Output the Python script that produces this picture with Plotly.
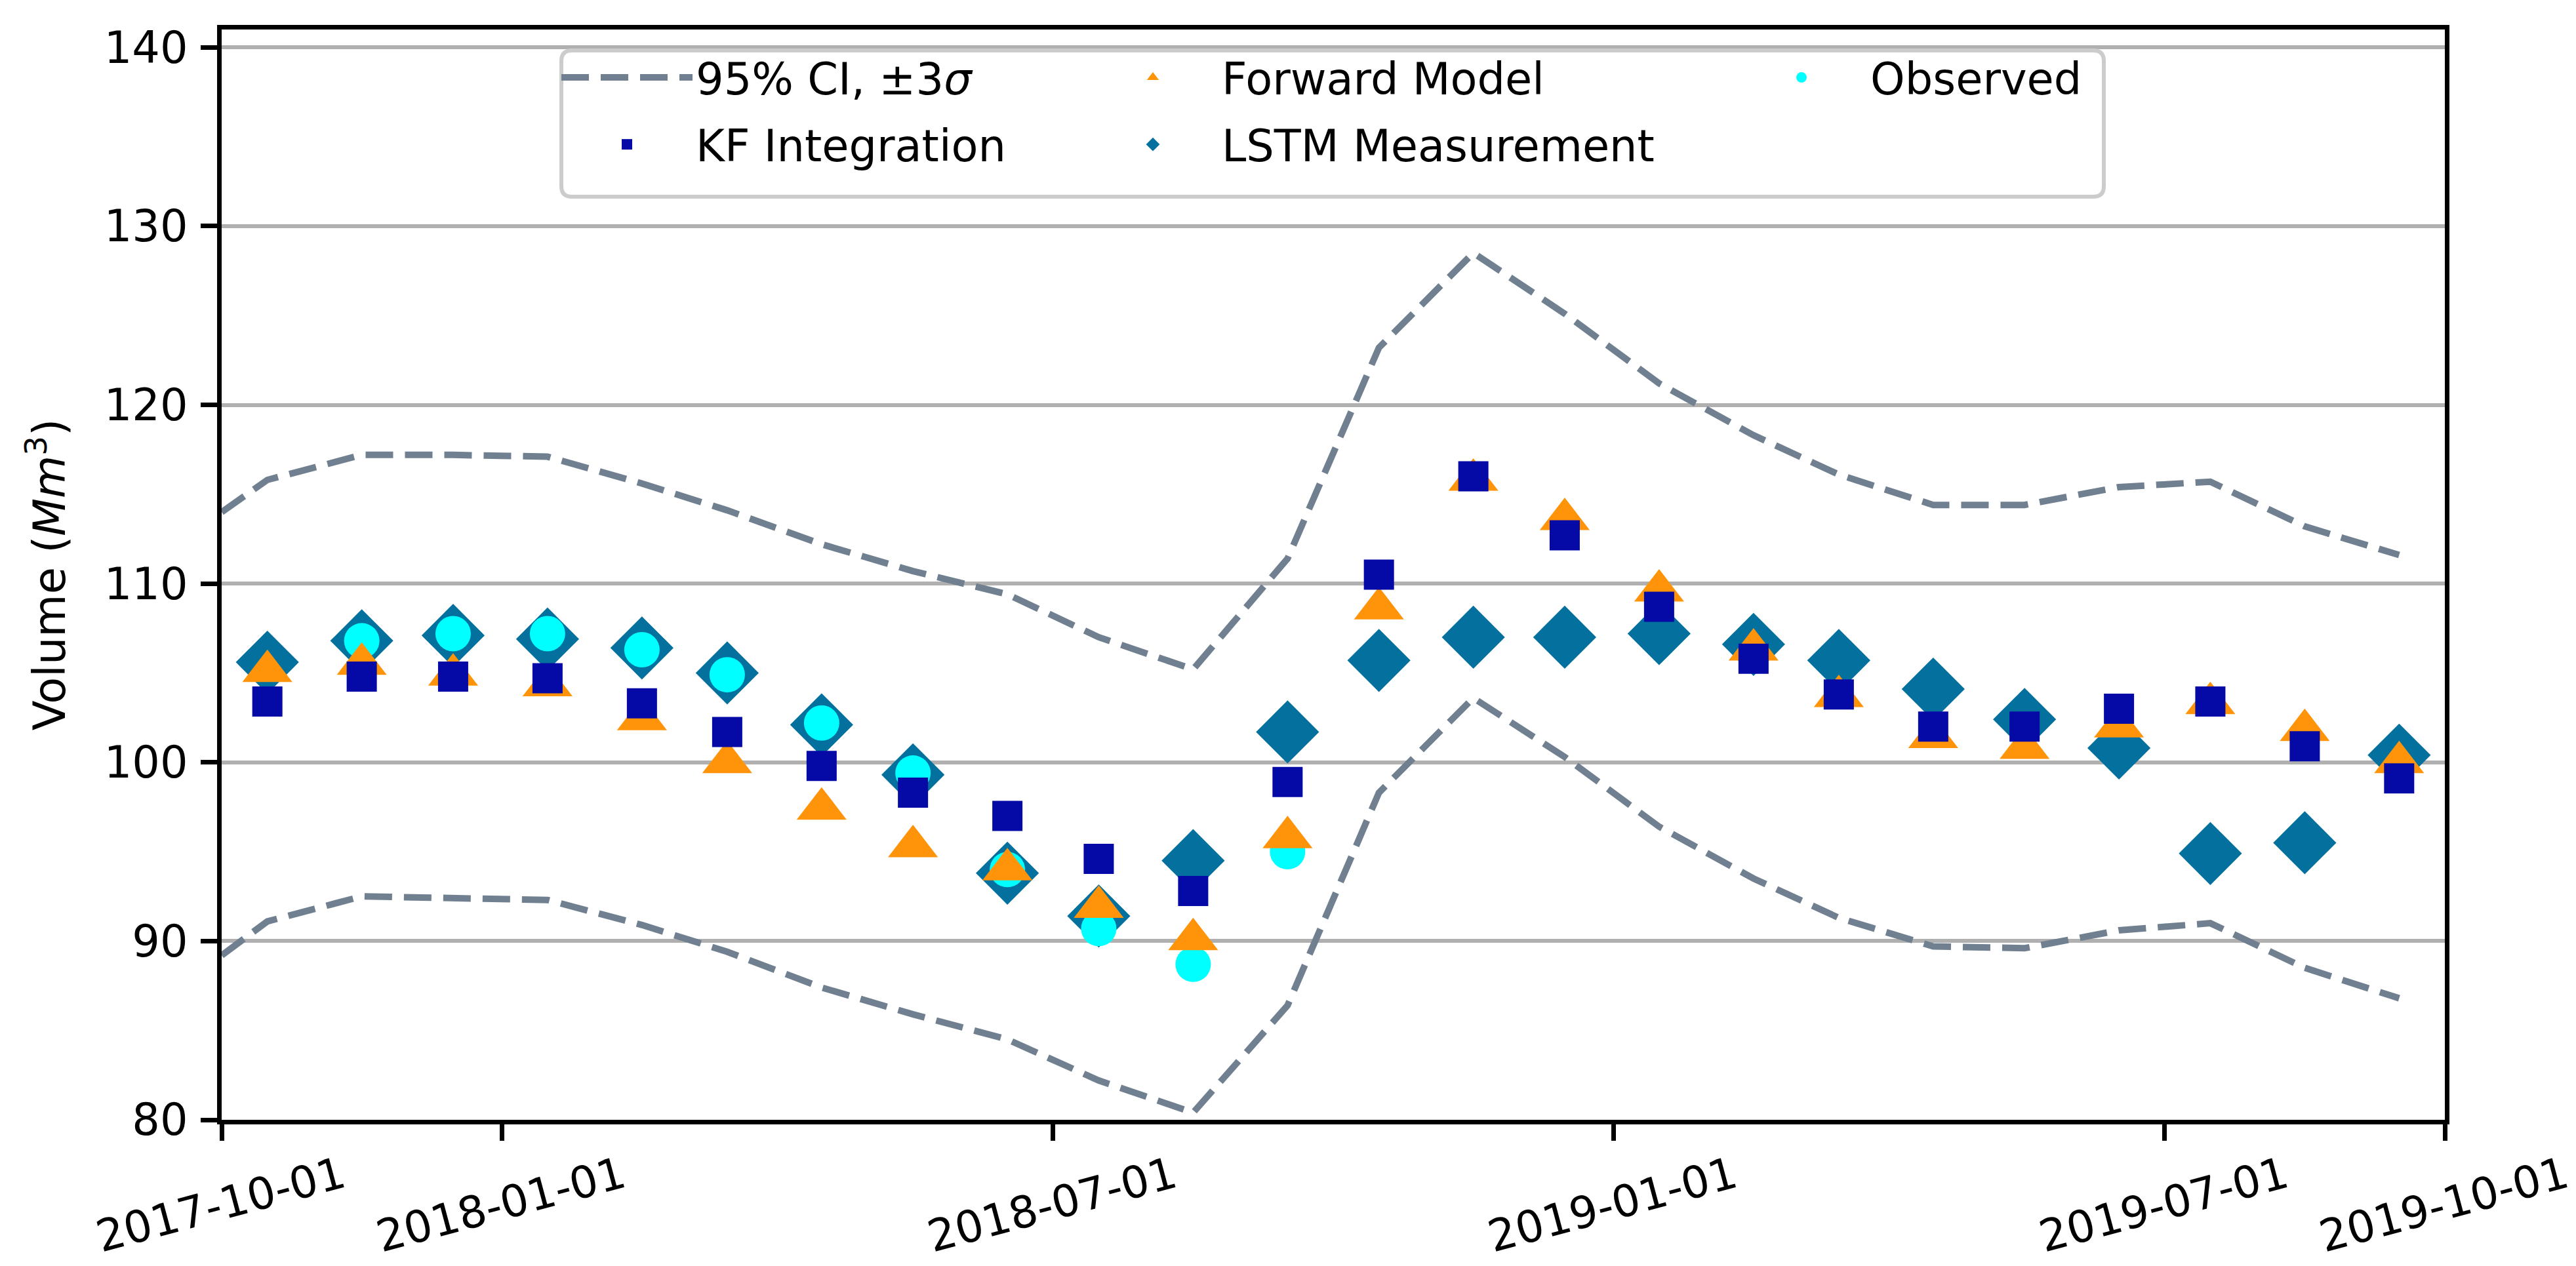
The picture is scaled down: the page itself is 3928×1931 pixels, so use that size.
import plotly.graph_objects as go

# ---------------- data ----------------
dates = ["2017-10-16", "2017-11-16", "2017-12-16", "2018-01-16", "2018-02-16", "2018-03-16",
         "2018-04-16", "2018-05-16", "2018-06-16", "2018-07-16", "2018-08-16", "2018-09-16",
         "2018-10-16", "2018-11-16", "2018-12-16", "2019-01-16", "2019-02-16", "2019-03-16",
         "2019-04-16", "2019-05-16", "2019-06-16", "2019-07-16", "2019-08-16", "2019-09-16"]

ci_dates = ["2017-10-01"] + dates
ci_upper = [114.0, 115.8, 117.2, 117.2, 117.1, 115.6, 114.1, 112.2, 110.7, 109.4, 107.0, 105.2,
            111.4, 123.2, 128.5, 125.1, 121.2, 118.3, 116.1, 114.4, 114.4, 115.4, 115.7, 113.2, 111.6]
ci_lower = [89.2, 91.1, 92.5, 92.4, 92.3, 90.9, 89.4, 87.4, 85.9, 84.5, 82.2, 80.4,
            86.4, 98.3, 103.6, 100.3, 96.4, 93.5, 91.3, 89.7, 89.6, 90.6, 91.0, 88.5, 86.8]

kf_integration = [103.4, 104.8, 104.8, 104.7, 103.3, 101.7, 99.8, 98.3, 97.0, 94.6, 92.8, 98.9,
                  110.5, 116.0, 112.7, 108.7, 105.8, 103.8, 102.0, 102.0, 103.0, 103.4, 100.9, 99.1]
forward_model = [105.1, 105.5, 104.9, 104.3, 102.4, 100.0, 97.4, 95.3, 94.0, 91.9, 90.1, 95.8,
                 108.6, 115.8, 113.6, 109.6, 106.3, 103.7, 101.4, 100.8, 102.0, 103.3, 101.8, 100.0]
lstm_measurement = [105.6, 106.8, 107.1, 106.9, 106.4, 105.0, 102.1, 99.3, 93.8, 91.4, 94.5, 101.7,
                    105.7, 107.0, 107.0, 107.2, 106.6, 105.7, 104.1, 102.4, 100.8, 94.9, 95.5, 100.4]
observed = [None, 106.8, 107.2, 107.2, 106.3, 104.9, 102.2, 99.4, 94.0, 90.7, 88.7, 95.0,
            None, None, None, None, None, None, None, None, None, None, None, None]

x_tickvals = ["2017-10-01", "2018-01-01", "2018-07-01", "2019-01-01", "2019-07-01", "2019-10-01"]
x_ticktext = ["2017-10-01", "2018-01-01", "2018-07-01", "2019-01-01", "2019-07-01", "2019-10-01"]
y_tickvals = [80, 90, 100, 110, 120, 130, 140]

# ---------------- styling ----------------
FONT = "DejaVu Sans"
FS = 67
C_CI = "#708090"
C_KF = "#0509A6"
C_FWD = "#FF940A"
C_LSTM = "#04709E"
C_OBS = "#00FFFF"

W, H = 3928, 1931
ML, MR, MT, MB = 330, 208, 37, 231

fig = go.Figure()

fig.add_trace(go.Scatter(x=ci_dates, y=ci_upper, mode="lines", name="95% CI, ±3<i>σ</i>",
                         line=dict(color=C_CI, width=10, dash="42px,18px"),
                         legend="legend", legendgroup="ci", legendrank=1))
fig.add_trace(go.Scatter(x=ci_dates, y=ci_lower, mode="lines", name="95% CI lower",
                         line=dict(color=C_CI, width=10, dash="42px,18px"),
                         legend="legend", legendgroup="ci", showlegend=False))
fig.add_trace(go.Scatter(x=dates, y=lstm_measurement, mode="markers", name="LSTM Measurement",
                         marker=dict(symbol="diamond", size=74, color=C_LSTM, line=dict(width=0)),
                         legend="legend2", legendgroup="lstm", legendrank=2))
fig.add_trace(go.Scatter(x=dates, y=observed, mode="markers", name="Observed",
                         marker=dict(symbol="circle", size=54, color=C_OBS, line=dict(width=0)),
                         legend="legend3", legendgroup="obs", legendrank=1))
fig.add_trace(go.Scatter(x=dates, y=forward_model, mode="markers", name="Forward Model",
                         marker=dict(symbol="triangle-up", size=66, color=C_FWD, line=dict(width=0)),
                         legend="legend2", legendgroup="fwd", legendrank=1))
fig.add_trace(go.Scatter(x=dates, y=kf_integration, mode="markers", name="KF Integration",
                         marker=dict(symbol="square", size=46, color=C_KF, line=dict(width=0)),
                         legend="legend", legendgroup="kf", legendrank=2))

pw = W - ML - MR
ph = H - MT - MB


def px_x(p):
    return (p - ML) / pw


def px_y(p):
    return (H - MB - p) / ph


legend_common = dict(orientation="v", xanchor="left", yanchor="top", bgcolor="rgba(0,0,0,0)",
                     borderwidth=0, font=dict(family=FONT, size=FS, color="black"),
                     traceorder="grouped", tracegroupgap=12, itemwidth=200, itemsizing="trace")

fig.update_layout(
    width=W, height=H,
    margin=dict(l=ML, r=MR, t=MT, b=MB, pad=0, autoexpand=False),
    paper_bgcolor="white", plot_bgcolor="white",
    font=dict(family=FONT, size=FS, color="black"),
    showlegend=True,
    legend=dict(x=px_x(843), y=px_y(60), **legend_common),
    legend2=dict(x=px_x(1645), y=px_y(60), **legend_common),
    legend3=dict(x=px_x(2634), y=px_y(60), **legend_common),
    xaxis=dict(type="date", range=["2017-10-01", "2019-10-01"], automargin=False,
               tickmode="array", tickvals=x_tickvals, ticktext=x_ticktext,
               tickangle=-15, ticklabeloverflow="allow", ticklabelshift=184,
               ticklabelstandoff=-10,
               ticks="outside", ticklen=25, tickwidth=7, tickcolor="black",
               showline=True, linecolor="black", linewidth=7, mirror=True,
               showgrid=False, zeroline=False,
               tickfont=dict(family=FONT, size=FS, color="black")),
    yaxis=dict(range=[80, 141], tickmode="array", tickvals=y_tickvals, automargin=False,
               ticks="outside", ticklen=25, tickwidth=7, tickcolor="black",
               ticklabelstandoff=6,
               showline=True, linecolor="black", linewidth=7, mirror=True,
               showgrid=True, gridcolor="#b0b0b0", gridwidth=6, zeroline=False,
               tickfont=dict(family=FONT, size=FS, color="black"),
               title=dict(text="Volume (<i>Mm</i><sup>3</sup>)",
                          font=dict(family=FONT, size=FS, color="black"), standoff=40)),
)

# rounded legend frame (matplotlib-style)
x0, x1 = px_x(848), px_x(3200)
y0, y1 = px_y(292), px_y(69)
rx = 16 / pw
ry = 16 / ph
path = (f"M{x0+rx},{y1} L{x1-rx},{y1} Q{x1},{y1} {x1},{y1-ry} "
        f"L{x1},{y0+ry} Q{x1},{y0} {x1-rx},{y0} "
        f"L{x0+rx},{y0} Q{x0},{y0} {x0},{y0+ry} "
        f"L{x0},{y1-ry} Q{x0},{y1} {x0+rx},{y1} Z")
fig.add_shape(type="path", path=path, xref="paper", yref="paper",
              fillcolor="rgba(255,255,255,0.8)", line=dict(color="#cccccc", width=6), layer="above")

fig.write_html("out.html")
